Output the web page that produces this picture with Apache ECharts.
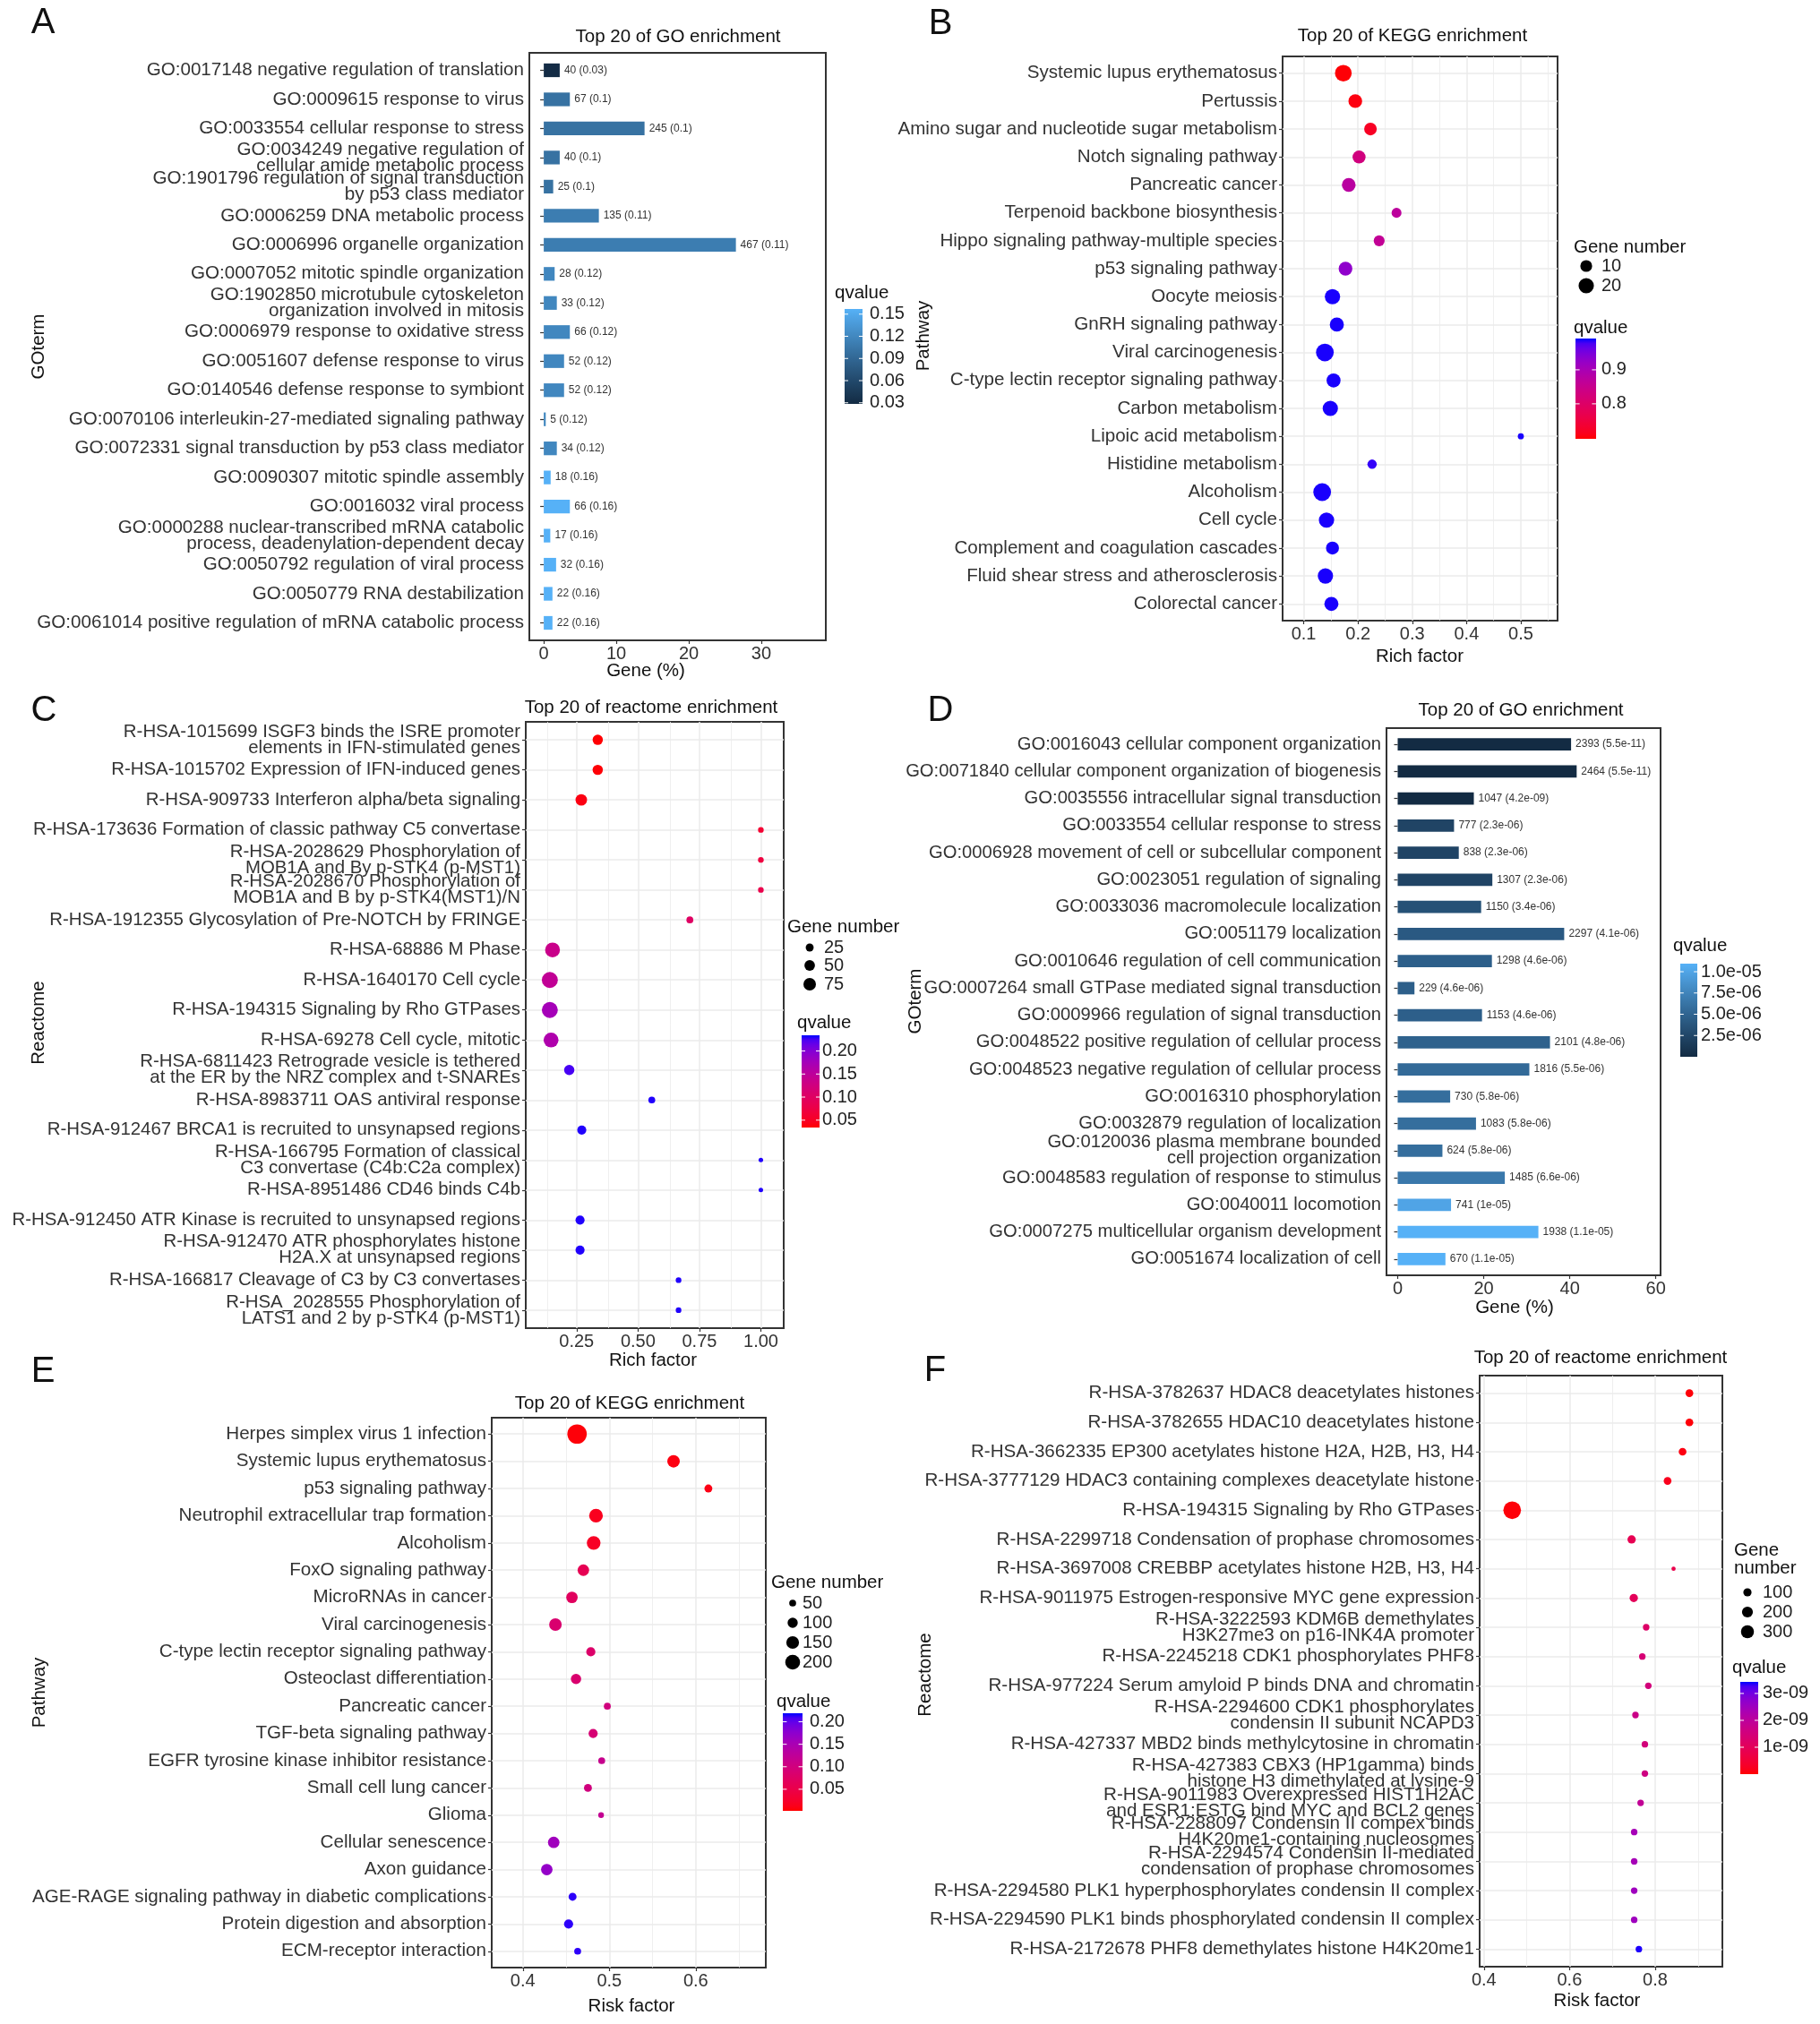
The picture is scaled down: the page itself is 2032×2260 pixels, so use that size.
<!DOCTYPE html>
<html>
<head>
<meta charset="utf-8">
<title>Top 20 enrichment</title>
<script src="https://cdn.jsdelivr.net/npm/echarts@6.0.0/dist/echarts.min.js"></script>
<style>
    html, body { margin: 0; padding: 0; background: #fff; }
    #main { width: 2032px; height: 2260px; }
</style>
</head>
<body>
<div id="main"></div>
<script>
// A - GO bars
var goA_terms = [
    'GO:0017148 negative regulation of translation',
    'GO:0009615 response to virus',
    'GO:0033554 cellular response to stress',
    'GO:0034249 negative regulation of\ncellular amide metabolic process',
    'GO:1901796 regulation of signal transduction\nby p53 class mediator',
    'GO:0006259 DNA metabolic process',
    'GO:0006996 organelle organization',
    'GO:0007052 mitotic spindle organization',
    'GO:1902850 microtubule cytoskeleton\norganization involved in mitosis',
    'GO:0006979 response to oxidative stress',
    'GO:0051607 defense response to virus',
    'GO:0140546 defense response to symbiont',
    'GO:0070106 interleukin-27-mediated signaling pathway',
    'GO:0072331 signal transduction by p53 class mediator',
    'GO:0090307 mitotic spindle assembly',
    'GO:0016032 viral process',
    'GO:0000288 nuclear-transcribed mRNA catabolic\nprocess, deadenylation-dependent decay',
    'GO:0050792 regulation of viral process',
    'GO:0050779 RNA destabilization',
    'GO:0061014 positive regulation of mRNA catabolic process'
];
var goA_pct = [2.2, 3.6, 13.9, 2.2, 1.3, 7.6, 26.5, 1.5, 1.8, 3.6, 2.8, 2.8, 0.27, 1.8, 0.95, 3.6, 0.9, 1.7, 1.2, 1.2];
var goA_count = [40, 67, 245, 40, 25, 135, 467, 28, 33, 66, 52, 52, 5, 34, 18, 66, 17, 32, 22, 22];
var goA_q = ['0.03', '0.1', '0.1', '0.1', '0.1', '0.11', '0.11', '0.12', '0.12', '0.12', '0.12', '0.12', '0.12', '0.12',
    '0.16', '0.16', '0.16', '0.16', '0.16', '0.16'];

// B - KEGG dots
var keggB_terms = [
    'Systemic lupus erythematosus', 'Pertussis', 'Amino sugar and nucleotide sugar metabolism',
    'Notch signaling pathway', 'Pancreatic cancer', 'Terpenoid backbone biosynthesis',
    'Hippo signaling pathway-multiple species', 'p53 signaling pathway', 'Oocyte meiosis',
    'GnRH signaling pathway', 'Viral carcinogenesis', 'C-type lectin receptor signaling pathway',
    'Carbon metabolism', 'Lipoic acid metabolism', 'Histidine metabolism', 'Alcoholism', 'Cell cycle',
    'Complement and coagulation cascades', 'Fluid shear stress and atherosclerosis', 'Colorectal cancer'
];
var keggB_rich = [0.173, 0.195, 0.223, 0.202, 0.183, 0.271, 0.239, 0.177, 0.153, 0.161, 0.139, 0.155, 0.149, 0.5,
    0.226, 0.134, 0.142, 0.153, 0.140, 0.151];
var keggB_genes = [25, 15, 12, 13, 15, 6, 8, 15, 20, 16, 29, 16, 20, 1, 5, 29, 20, 13, 20, 16];
var keggB_q = [0.70, 0.705, 0.72, 0.83, 0.875, 0.87, 0.86, 0.93, 0.99, 0.99, 0.99, 0.99, 0.99, 0.99, 0.985, 0.99,
    0.99, 0.99, 0.99, 0.99];

// C - reactome dots
var reactC_terms = [
    'R-HSA-1015699 ISGF3 binds the ISRE promoter\nelements in IFN-stimulated genes',
    'R-HSA-1015702 Expression of IFN-induced genes',
    'R-HSA-909733 Interferon alpha/beta signaling',
    'R-HSA-173636 Formation of classic pathway C5 convertase',
    'R-HSA-2028629 Phosphorylation of\nMOB1A and By p-STK4 (p-MST1)',
    'R-HSA-2028670 Phosphorylation of\nMOB1A and B by p-STK4(MST1)/N',
    'R-HSA-1912355 Glycosylation of Pre-NOTCH by FRINGE',
    'R-HSA-68886 M Phase',
    'R-HSA-1640170 Cell cycle',
    'R-HSA-194315 Signaling by Rho GTPases',
    'R-HSA-69278 Cell cycle, mitotic',
    'R-HSA-6811423 Retrograde vesicle is tethered\nat the ER by the NRZ complex and t-SNAREs',
    'R-HSA-8983711 OAS antiviral response',
    'R-HSA-912467 BRCA1 is recruited to unsynapsed regions',
    'R-HSA-166795 Formation of classical\nC3 convertase (C4b:C2a complex)',
    'R-HSA-8951486 CD46 binds C4b',
    'R-HSA-912450 ATR Kinase is recruited to unsynapsed regions',
    'R-HSA-912470 ATR phosphorylates histone\nH2A.X at unsynapsed regions',
    'R-HSA-166817 Cleavage of C3 by C3 convertases',
    'R-HSA_2028555 Phosphorylation of\nLATS1 and 2 by p-STK4 (p-MST1)'
];
var reactC_rich = [0.336, 0.336, 0.269, 1.0, 1.0, 1.0, 0.711, 0.152, 0.141, 0.141, 0.146, 0.220, 0.556, 0.271, 1.0,
    1.0, 0.264, 0.264, 0.665, 0.665];
var reactC_genes = [47, 47, 61, 10, 10, 10, 17, 111, 131, 131, 111, 47, 17, 35, 5, 5, 35, 35, 10, 10];
var reactC_q = [0.035, 0.036, 0.04, 0.06, 0.07, 0.08, 0.10, 0.135, 0.145, 0.175, 0.165, 0.225, 0.232, 0.232, 0.232,
    0.232, 0.232, 0.232, 0.232, 0.232];

// D - GO bars
var goD_terms = [
    'GO:0016043 cellular component organization',
    'GO:0071840 cellular component organization of biogenesis',
    'GO:0035556 intracellular signal transduction',
    'GO:0033554 cellular response to stress',
    'GO:0006928 movement of cell or subcellular component',
    'GO:0023051 regulation of signaling',
    'GO:0033036 macromolecule localization',
    'GO:0051179 localization',
    'GO:0010646 regulation of cell communication',
    'GO:0007264 small GTPase mediated signal transduction',
    'GO:0009966 regulation of signal transduction',
    'GO:0048522 positive regulation of cellular process',
    'GO:0048523 negative regulation of cellular process',
    'GO:0016310 phosphorylation',
    'GO:0032879 regulation of localization',
    'GO:0120036 plasma membrane bounded\ncell projection organization',
    'GO:0048583 regulation of response to stimulus',
    'GO:0040011 locomotion',
    'GO:0007275 multicellular organism development',
    'GO:0051674 localization of cell'
];
var goD_pct = [40.3, 41.6, 17.7, 13.1, 14.2, 22.0, 19.4, 38.7, 21.9, 3.9, 19.6, 35.4, 30.6, 12.2, 18.2, 10.4, 24.9,
    12.4, 32.7, 11.1];
var goD_count = [2393, 2464, 1047, 777, 838, 1307, 1150, 2297, 1298, 229, 1153, 2101, 1816, 730, 1083, 624, 1485,
    741, 1938, 670];
var goD_q = ['5.5e-11', '5.5e-11', '4.2e-09', '2.3e-06', '2.3e-06', '2.3e-06', '3.4e-06', '4.1e-06', '4.6e-06',
    '4.6e-06', '4.6e-06', '4.8e-06', '5.5e-06', '5.8e-06', '5.8e-06', '5.8e-06', '6.6e-06', '1e-05', '1.1e-05',
    '1.1e-05'];

// E - KEGG dots
var keggE_terms = [
    'Herpes simplex virus 1 infection', 'Systemic lupus erythematosus', 'p53 signaling pathway',
    'Neutrophil extracellular trap formation', 'Alcoholism', 'FoxO signaling pathway', 'MicroRNAs in cancer',
    'Viral carcinogenesis', 'C-type lectin receptor signaling pathway', 'Osteoclast differentiation',
    'Pancreatic cancer', 'TGF-beta signaling pathway', 'EGFR tyrosine kinase inhibitor resistance',
    'Small cell lung cancer', 'Glioma', 'Cellular senescence', 'Axon guidance',
    'AGE-RAGE signaling pathway in diabetic complications', 'Protein digestion and absorption',
    'ECM-receptor interaction'
];
var keggE_risk = [0.4627, 0.5743, 0.6146, 0.4846, 0.4819, 0.4700, 0.4568, 0.4377, 0.4786, 0.4615, 0.4977, 0.4813,
    0.4912, 0.4753, 0.4905, 0.4357, 0.4277, 0.4575, 0.4529, 0.4634];
var keggE_genes = [331, 146, 64, 172, 172, 124, 124, 146, 82, 102, 50, 82, 50, 64, 36, 124, 124, 64, 82, 50];
var keggE_q = [0.005, 0.008, 0.01, 0.015, 0.02, 0.06, 0.07, 0.085, 0.08, 0.085, 0.1, 0.09, 0.115, 0.1, 0.12, 0.16,
    0.17, 0.215, 0.215, 0.215];

// F - reactome dots
var reactF_terms = [
    'R-HSA-3782637 HDAC8 deacetylates histones',
    'R-HSA-3782655 HDAC10 deacetylates histone',
    'R-HSA-3662335 EP300 acetylates histone H2A, H2B, H3, H4',
    'R-HSA-3777129 HDAC3 containing complexes deacetylate histone',
    'R-HSA-194315 Signaling by Rho GTPases',
    'R-HSA-2299718 Condensation of prophase chromosomes',
    'R-HSA-3697008 CREBBP acetylates histone H2B, H3, H4',
    'R-HSA-9011975 Estrogen-responsive MYC gene expression',
    'R-HSA-3222593 KDM6B demethylates\nH3K27me3 on p16-INK4A promoter',
    'R-HSA-2245218 CDK1 phosphorylates PHF8',
    'R-HSA-977224 Serum amyloid P binds DNA and chromatin',
    'R-HSA-2294600 CDK1 phosphorylates\ncondensin II subunit NCAPD3',
    'R-HSA-427337 MBD2 binds methylcytosine in chromatin',
    'R-HSA-427383 CBX3 (HP1gamma) binds\nhistone H3 dimethylated at lysine-9',
    'R-HSA-9011983 Overexpressed HIST1H2AC\nand ESR1:ESTG bind MYC and BCL2 genes',
    'R-HSA-2288097 Condensin II compex binds\nH4K20me1-containing nucleosomes',
    'R-HSA-2294574 Condensin II-mediated\ncondensation of prophase chromosomes',
    'R-HSA-2294580 PLK1 hyperphosphorylates condensin II complex',
    'R-HSA-2294590 PLK1 binds phosphorylated condensin II complex',
    'R-HSA-2172678 PHF8 demethylates histone H4K20me1'
];
var reactF_risk = [0.880, 0.880, 0.864, 0.829, 0.466, 0.745, 0.843, 0.750, 0.779, 0.770, 0.784, 0.754, 0.776, 0.776,
    0.766, 0.751, 0.751, 0.751, 0.751, 0.762];
var reactF_genes = [85, 85, 85, 85, 600, 102, 14, 102, 54, 54, 54, 54, 54, 54, 54, 54, 54, 54, 54, 54];
var reactF_q = [0.05e-9, 0.05e-9, 0.1e-9, 0.2e-9, 0.05e-9, 0.9e-9, 0.8e-9, 1.0e-9, 1.2e-9, 1.4e-9, 1.5e-9, 1.7e-9,
    1.5e-9, 1.6e-9, 1.9e-9, 2.4e-9, 2.4e-9, 2.5e-9, 2.5e-9, 3.4e-9];

var FONT = '"Liberation Sans", Arial, Helvetica, sans-serif';
var AXIS_TXT = '#333';
var NAVY = '#132B43', SKY = '#56B1F7', RED = '#FF0000', BLUE = '#0000FF';

/**
 * ggplot-like colour gradient (interpolates in CIE Lab)
 */
function hexRgb(h) {
    h = h.replace('#', '');
    return [parseInt(h.substr(0, 2), 16), parseInt(h.substr(2, 2), 16), parseInt(h.substr(4, 2), 16)];
}
function toLin(c) {
    c = c / 255;
    return c <= 0.04045 ? c / 12.92 : Math.pow((c + 0.055) / 1.055, 2.4);
}
function fromLin(c) {
    c = c <= 0.0031308 ? 12.92 * c : 1.055 * Math.pow(c, 1 / 2.4) - 0.055;
    return Math.max(0, Math.min(255, Math.round(c * 255)));
}
function rgbLab(rgb) {
    var r = toLin(rgb[0]), g = toLin(rgb[1]), b = toLin(rgb[2]);
    var x = (0.4124 * r + 0.3576 * g + 0.1805 * b) / 0.95047;
    var y = 0.2126 * r + 0.7152 * g + 0.0722 * b;
    var z = (0.0193 * r + 0.1192 * g + 0.9505 * b) / 1.08883;
    var f = function (t) { return t > 0.008856 ? Math.cbrt(t) : 7.787 * t + 16 / 116; };
    return [116 * f(y) - 16, 500 * (f(x) - f(y)), 200 * (f(y) - f(z))];
}
function labRgb(lab) {
    var fy = (lab[0] + 16) / 116, fx = fy + lab[1] / 500, fz = fy - lab[2] / 200;
    var g = function (t) { var t3 = t * t * t; return t3 > 0.008856 ? t3 : (t - 16 / 116) / 7.787; };
    var x = g(fx) * 0.95047, y = g(fy), z = g(fz) * 1.08883;
    var r = 3.2406 * x - 1.5372 * y - 0.4986 * z;
    var gg = -0.9689 * x + 1.8758 * y + 0.0415 * z;
    var b = 0.0557 * x - 0.2040 * y + 1.0570 * z;
    return 'rgb(' + fromLin(r) + ',' + fromLin(gg) + ',' + fromLin(b) + ')';
}
function mixLab(lo, hi, t) {
    t = Math.max(0, Math.min(1, t));
    var a = rgbLab(hexRgb(lo)), b = rgbLab(hexRgb(hi));
    return labRgb([a[0] + (b[0] - a[0]) * t, a[1] + (b[1] - a[1]) * t, a[2] + (b[2] - a[2]) * t]);
}

// panel layouts (px in the 2032x2260 canvas)
var panels = [
    {key: 'A', kind: 'bar', terms: goA_terms, x: goA_pct, count: goA_count, q: goA_q, fs: 20.6,
        grid: {left: 591, top: 59, width: 331, height: 656}, xMin: -1.99, xMax: 38.9, ticks: [0, 10, 20, 30],
        fmt: function (v) { return String(v); }, lo: NAVY, hi: SKY, barFrac: 0.47,
        letter: [48, 26], title: 'Top 20 of GO enrichment', titlePos: [757, 41],
        xName: 'Gene (%)', xNamePos: [721, 749], yName: 'GOterm', yNamePos: [43, 387],
        cb: {x: 943, y: 345, w: 20, h: 106, min: 0.0285, max: 0.157, ticks: [0.03, 0.06, 0.09, 0.12, 0.15],
            labels: ['0.03', '0.06', '0.09', '0.12', '0.15'], lx: 971, title: [932, 327]}},
    {key: 'B', kind: 'dot', terms: keggB_terms, x: keggB_rich, genes: keggB_genes, q: keggB_q, fs: 20.6,
        grid: {left: 1432, top: 63, width: 307, height: 630}, xMin: 0.0611, xMax: 0.5677,
        ticks: [0.1, 0.2, 0.3, 0.4, 0.5], minor: [0.15, 0.25, 0.35, 0.45, 0.55],
        fmt: function (v) { return v.toFixed(1); }, lo: RED, hi: BLUE, size: [3.79, 2.977],
        letter: [1050, 27], title: 'Top 20 of KEGG enrichment', titlePos: [1577, 40],
        xName: 'Rich factor', xNamePos: [1585, 733], yName: 'Pathway', yNamePos: [1031, 375],
        sl: {title: 'Gene number', tx: 1757, ty: 276, breaks: [10, 20], ys: [297, 319], cx: 1771, lx: 1788},
        cb: {x: 1759, y: 378, w: 23, h: 112, min: 0.697, max: 0.992, ticks: [0.8, 0.9],
            labels: ['0.8', '0.9'], lx: 1788, title: [1757, 366]}},
    {key: 'C', kind: 'dot', terms: reactC_terms, x: reactC_rich, genes: reactC_genes, q: reactC_q, fs: 20.4,
        grid: {left: 587, top: 806, width: 288, height: 677}, xMin: 0.043, xMax: 1.093,
        ticks: [0.25, 0.5, 0.75, 1.0], minor: [0.125, 0.375, 0.625, 0.875],
        fmt: function (v) { return v.toFixed(2); }, lo: RED, hi: BLUE, size: [1.93, 1.393],
        letter: [49, 794], title: 'Top 20 of reactome enrichment', titlePos: [727, 790],
        xName: 'Rich factor', xNamePos: [729, 1519], yName: 'Reactome', yNamePos: [43, 1142],
        sl: {title: 'Gene number', tx: 879, ty: 1035, breaks: [25, 50, 75], ys: [1058, 1078, 1099], cx: 904, lx: 920},
        cb: {x: 895, y: 1156, w: 20, h: 103, min: 0.034, max: 0.234, ticks: [0.05, 0.1, 0.15, 0.2],
            labels: ['0.05', '0.10', '0.15', '0.20'], lx: 918, title: [890, 1142]}},
    {key: 'D', kind: 'bar', terms: goD_terms, x: goD_pct, count: goD_count, q: goD_q, fs: 20.2,
        grid: {left: 1548, top: 813, width: 306, height: 611}, xMin: -2.6, xMax: 61.1, ticks: [0, 20, 40, 60],
        fmt: function (v) { return String(v); }, lo: NAVY, hi: SKY, barFrac: 0.46,
        letter: [1050, 794], title: 'Top 20 of GO enrichment', titlePos: [1698, 793],
        xName: 'Gene (%)', xNamePos: [1691, 1460], yName: 'GOterm', yNamePos: [1022, 1118],
        cb: {x: 1876, y: 1076, w: 19, h: 104, min: 0, max: 1.095e-5, ticks: [2.5e-6, 5e-6, 7.5e-6, 1e-5],
            labels: ['2.5e-06', '5.0e-06', '7.5e-06', '1.0e-05'], lx: 1899, title: [1868, 1056]}},
    {key: 'E', kind: 'dot', terms: keggE_terms, x: keggE_risk, genes: keggE_genes, q: keggE_q, fs: 20.6,
        grid: {left: 549, top: 1583, width: 306, height: 614}, xMin: 0.364, xMax: 0.681,
        ticks: [0.4, 0.5, 0.6], minor: [0.45, 0.55, 0.65],
        fmt: function (v) { return v.toFixed(1); }, lo: RED, hi: BLUE, size: [-1.2, 1.259],
        letter: [48, 1532], title: 'Top 20 of KEGG enrichment', titlePos: [703, 1567],
        xName: 'Risk factor', xNamePos: [705, 2240], yName: 'Pathway', yNamePos: [44, 1890],
        sl: {title: 'Gene number', tx: 861, ty: 1767, breaks: [50, 100, 150, 200], ys: [1790, 1812, 1834, 1856],
            cx: 885, lx: 896},
        cb: {x: 874, y: 1913, w: 22, h: 109, min: 0.002, max: 0.219, ticks: [0.05, 0.1, 0.15, 0.2],
            labels: ['0.05', '0.10', '0.15', '0.20'], lx: 904, title: [867, 1900]}},
    {key: 'F', kind: 'dot', terms: reactF_terms, x: reactF_risk, genes: reactF_genes, q: reactF_q, fs: 20.6,
        grid: {left: 1652, top: 1536, width: 271, height: 660}, xMin: 0.39, xMax: 0.957,
        ticks: [0.4, 0.6, 0.8], minor: [0.5, 0.7, 0.9],
        fmt: function (v) { return v.toFixed(1); }, lo: RED, hi: BLUE, size: [1.96, 0.724],
        letter: [1044, 1531], title: 'Top 20 of reactome enrichment', titlePos: [1787, 1516],
        xName: 'Risk factor', xNamePos: [1783, 2234], yName: 'Reactome', yNamePos: [1033, 1870],
        sl: {title: 'Gene\nnumber', tx: 1936, ty: 1741, breaks: [100, 200, 300], ys: [1778, 1800, 1822],
            cx: 1951, lx: 1968},
        cb: {x: 1943, y: 1878, w: 20, h: 103, min: 0, max: 3.43e-9, ticks: [1e-9, 2e-9, 3e-9],
            labels: ['1e-09', '2e-09', '3e-09'], lx: 1968, title: [1934, 1862]}}
];

var option = {
    animation: false,
    backgroundColor: '#fff',
    textStyle: {fontFamily: FONT},
    grid: [],
    xAxis: [],
    yAxis: [],
    series: [],
    graphic: []
};

function txt(x, y, s, size, align, extra) {
    var el = {type: 'text', x: x, y: y, z: 10, silent: true,
        style: {text: s, font: size + 'px ' + FONT, fill: '#111', align: align || 'center', verticalAlign: 'middle'}};
    if (extra) {
        for (var k in extra) { el[k] = extra[k]; }
    }
    return el;
}

function qColor(p, q) {
    return mixLab(p.lo, p.hi, (q - p.cb.min) / (p.cb.max - p.cb.min));
}

function dotSize(p, n) {
    return p.size[0] + p.size[1] * Math.sqrt(n);
}

function barRender(labels, colors, frac) {
    return function (params, api) {
        var i = params.dataIndex;
        var v = api.value(0), y = api.value(1);
        var a = api.coord([0, y]), b = api.coord([v, y]);
        var h = api.size([0, 1])[1] * frac;
        return {
            type: 'group',
            children: [
                {type: 'rect', shape: {x: a[0], y: a[1] - h / 2, width: b[0] - a[0], height: h},
                    style: {fill: colors[i]}},
                {type: 'text', style: {x: b[0] + 5, y: b[1], text: labels[i], fill: '#333',
                    font: '12px ' + FONT, align: 'left', verticalAlign: 'middle'}}
            ]
        };
    };
}

function $each(arr, fn) {
    for (var i = 0; i < arr.length; i++) { fn(arr[i], i); }
}

function addColorbar(p) {
    var cb = p.cb, stops = [];
    for (var j = 0; j <= 20; j++) {
        stops.push({offset: j / 20, color: mixLab(p.lo, p.hi, j / 20)});
    }
    option.graphic.push({type: 'rect', z: 10, silent: true, shape: {x: cb.x, y: cb.y, width: cb.w, height: cb.h},
        style: {fill: new echarts.graphic.LinearGradient(0, 1, 0, 0, stops)}});
    $each(cb.ticks, function (t, k) {
        var y = cb.y + cb.h - (t - cb.min) / (cb.max - cb.min) * cb.h;
        option.graphic.push({type: 'line', z: 11, silent: true,
            shape: {x1: cb.x, y1: y, x2: cb.x + cb.w / 5, y2: y}, style: {stroke: '#fff', lineWidth: 1}});
        option.graphic.push({type: 'line', z: 11, silent: true,
            shape: {x1: cb.x + cb.w * 4 / 5, y1: y, x2: cb.x + cb.w, y2: y}, style: {stroke: '#fff', lineWidth: 1}});
        option.graphic.push(txt(cb.lx, y, cb.labels[k], 20, 'left', {style: {text: cb.labels[k],
            font: '20px ' + FONT, fill: '#222', align: 'left', verticalAlign: 'middle'}}));
    });
    option.graphic.push(txt(cb.title[0], cb.title[1], 'qvalue', 20.5, 'left'));
}

function addSizeLegend(p) {
    var sl = p.sl;
    option.graphic.push(txt(sl.tx, sl.ty, sl.title, 20.5, 'left', {style: {text: sl.title, font: '20.5px ' + FONT,
        fill: '#111', align: 'left', verticalAlign: 'middle', lineHeight: 20}}));
    $each(sl.breaks, function (n, k) {
        option.graphic.push({type: 'circle', z: 10, silent: true,
            shape: {cx: sl.cx, cy: sl.ys[k], r: dotSize(p, n) / 2}, style: {fill: '#000'}});
        option.graphic.push(txt(sl.lx, sl.ys[k], String(n), 20, 'left', {style: {text: String(n),
            font: '20px ' + FONT, fill: '#222', align: 'left', verticalAlign: 'middle'}}));
    });
}

$each(panels, function (p, k) {
    var n = p.terms.length, pos = [];
    for (var i = 1; i <= n; i++) { pos.push(i); }

    option.grid.push({left: p.grid.left, top: p.grid.top, width: p.grid.width, height: p.grid.height,
        show: true, borderColor: '#333', borderWidth: 2, backgroundColor: '#fff',
        containLabel: false, outerBoundsMode: 'none'});

    option.xAxis.push({gridIndex: k, type: 'value', min: p.xMin, max: p.xMax,
        axisLine: {show: false}, splitLine: {show: false},
        axisTick: {show: true, length: 4, customValues: p.ticks, lineStyle: {color: '#333', width: 1.2}},
        axisLabel: {customValues: p.ticks, formatter: p.fmt, fontFamily: FONT, fontSize: 20,
            color: AXIS_TXT, margin: 5}});

    option.yAxis.push({gridIndex: k, type: 'value', inverse: true, min: 0.4, max: n + 0.6,
        axisLine: {show: false}, splitLine: {show: false},
        axisTick: {show: true, length: 4, customValues: pos, lineStyle: {color: '#333', width: 1.2}},
        axisLabel: {customValues: pos, fontFamily: FONT, fontSize: p.fs, lineHeight: 18, color: AXIS_TXT,
            margin: 6, formatter: function (v) { return p.terms[Math.round(v) - 1] || ''; }}});

    if (p.kind === 'bar') {
        var rows = [], labels = [], colors = [];
        $each(p.x, function (v, i) {
            rows.push([v, i + 1]);
            labels.push(p.count[i] + ' (' + p.q[i] + ')');
            colors.push(qColor(p, Number(p.q[i])));
        });
        option.series.push({type: 'custom', xAxisIndex: k, yAxisIndex: k, z: 3, silent: true,
            encode: {x: 0, y: 1}, data: rows, renderItem: barRender(labels, colors, p.barFrac)});
    } else {
        // panel grid lines (theme_bw)
        var lines = [];
        $each(p.ticks, function (v) { lines.push({xAxis: v}); });
        $each(p.minor, function (v) { lines.push({xAxis: v, lineStyle: {width: 0.8}}); });
        $each(pos, function (v) { lines.push({yAxis: v}); });
        option.series.push({type: 'scatter', xAxisIndex: k, yAxisIndex: k, z: 1, silent: true, data: [],
            markLine: {silent: true, z: 1, symbol: ['none', 'none'], animation: false, label: {show: false},
                lineStyle: {color: '#EBEBEB', type: 'solid', width: 1.5}, data: lines}});

        var pts = [];
        $each(p.x, function (v, i) {
            pts.push([v, i + 1, p.genes[i], p.q[i]]);
        });
        option.series.push({type: 'scatter', xAxisIndex: k, yAxisIndex: k, z: 6, silent: true, data: pts,
            symbol: 'circle',
            symbolSize: function (val) { return dotSize(p, val[2]); },
            itemStyle: {opacity: 1, color: function (d) { return qColor(p, d.value[3]); }}});
        addSizeLegend(p);
    }
    addColorbar(p);

    option.graphic.push(txt(p.letter[0], p.letter[1], p.key, 40));
    option.graphic.push(txt(p.titlePos[0], p.titlePos[1], p.title, 20.5));
    option.graphic.push(txt(p.xNamePos[0], p.xNamePos[1], p.xName, 20.5));
    option.graphic.push(txt(p.yNamePos[0], p.yNamePos[1], p.yName, 20.5, 'center', {rotation: Math.PI / 2}));
});

var myChart = echarts.init(document.getElementById('main'), null, {renderer: 'canvas'});
myChart.setOption(option);
</script>
</body>
</html>
